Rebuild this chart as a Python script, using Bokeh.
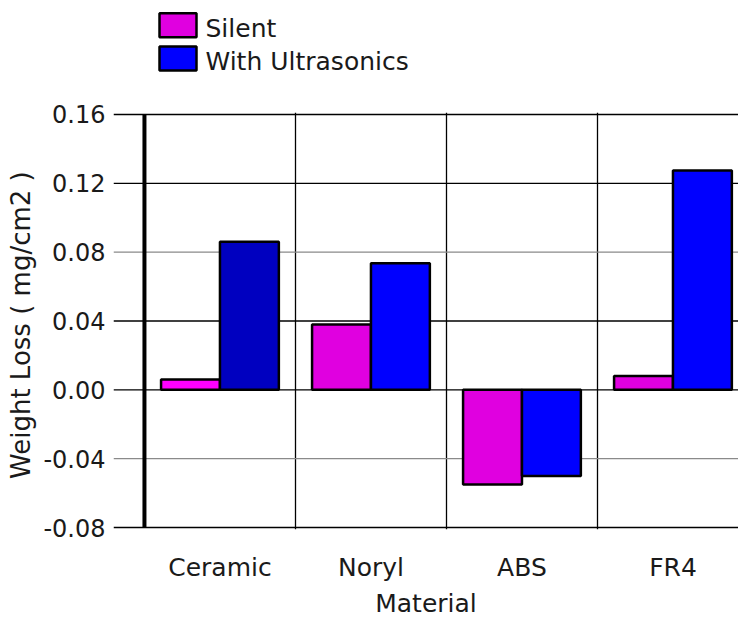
import numpy as np
from bokeh.plotting import figure
from bokeh.layouts import column
from bokeh.models import (ColumnDataSource, FixedTicker, Span, NumeralTickFormatter,
                          Range1d)
from bokeh.core.properties import value
from bokeh.embed import file_html
from bokeh.resources import INLINE

categories = ["Ceramic", "Noryl", "ABS", "FR4"]
series_names = ["Silent", "With Ultrasonics"]
silent = [0.006, 0.038, -0.055, 0.008]
ultrasonic = [0.086, 0.0735, -0.050, 0.1275]
silent_colors = ["#FF00FF", "#E000E0", "#E000E0", "#E000E0"]
ultra_colors = ["#0000C0", "#0000FF", "#0000FF", "#0000FF"]
y_ticks = [-0.08, -0.04, 0.0, 0.04, 0.08, 0.12, 0.16]
grid_colors = ["black", "#8a8a8a", "black", "black", "#8a8a8a", "black", "black"]

FONT = "DejaVu Sans"
TXT = "#1a1a1a"
W = 738
H = 620
LEFT = 113
TOP_H = 80
MAIN_H = H - TOP_H
FRAME_W = W - LEFT

# ---------------- legend strip (separate figure above the chart) -------------
leg = figure(width=W, height=TOP_H, output_backend="svg", toolbar_location=None,
             x_range=Range1d(0, FRAME_W), y_range=Range1d(TOP_H, 0),
             x_axis_location=None, y_axis_location=None,
             min_border_left=LEFT, min_border_right=0, min_border_top=0,
             min_border_bottom=0)
leg.outline_line_color = None
leg.grid.grid_line_color = None
leg_src = ColumnDataSource(dict(
    bx=[64.5, 64.5], by=[24.7, 58], tx=[92, 92], ty=[27.5, 61],
    color=[silent_colors[1], ultra_colors[1]], label=series_names))
leg.rect(x="bx", y="by", width=37, height=24, fill_color="color",
         line_color="black", line_width=2.5, source=leg_src)
leg.text(x="tx", y="ty", text="label", text_font=value(FONT),
         text_font_size="25px", text_color=TXT, text_baseline="alphabetic",
         text_align="left", source=leg_src)

# ---------------- main chart --------------------------------------------------
idx = np.arange(len(categories))
bar_w = 0.39
src_s = ColumnDataSource(dict(x=idx + 0.5 - bar_w / 2, top=silent, color=silent_colors))
src_u = ColumnDataSource(dict(x=idx + 0.5 + bar_w / 2, top=ultrasonic, color=ultra_colors))

p = figure(width=W, height=MAIN_H, output_backend="svg", toolbar_location=None,
           x_range=(-0.205, 3.934), y_range=(-0.08116, 0.16116),
           min_border_left=LEFT, min_border_right=0, min_border_top=112 - TOP_H,
           min_border_bottom=90)
p.outline_line_color = None

# horizontal grid lines
p.ygrid.grid_line_color = None
for v, c in zip(y_ticks, grid_colors):
    p.add_layout(Span(location=v, dimension="width", line_color=c,
                      line_width=1.3, level="underlay"))

# vertical separators between categories
p.xgrid.ticker = FixedTicker(ticks=list(idx[1:].astype(float)))
p.xgrid.grid_line_color = "black"
p.xgrid.grid_line_width = 1.3

# thick left axis line
p.segment(x0=[0], y0=[y_ticks[0]], x1=[0], y1=[y_ticks[-1]],
          line_color="black", line_width=4)

p.vbar(x="x", top="top", bottom=0, width=bar_w, fill_color="color",
       line_color="black", line_width=2.5, source=src_s)
p.vbar(x="x", top="top", bottom=0, width=bar_w, fill_color="color",
       line_color="black", line_width=2.5, source=src_u)

# y axis
yax = p.yaxis[0]
yax.ticker = FixedTicker(ticks=y_ticks)
yax.formatter = NumeralTickFormatter(format="0.00")
yax.axis_line_color = None
yax.major_tick_line_color = None
yax.minor_tick_line_color = None
yax.major_tick_out = 0
yax.major_tick_in = 0
yax.major_label_standoff = 8
yax.major_label_text_font = FONT
yax.major_label_text_font_size = "24px"
yax.major_label_text_color = TXT
yax.axis_label = "Weight Loss  ( mg/cm2 )"
yax.axis_label_text_font = FONT
yax.axis_label_text_font_size = "26px"
yax.axis_label_text_font_style = "normal"
yax.axis_label_text_color = TXT
yax.axis_label_standoff = 4

# x axis
xax = p.xaxis[0]
xax.ticker = FixedTicker(ticks=list(idx + 0.5))
xax.major_label_overrides = {float(i + 0.5): c for i, c in zip(idx, categories)}
xax.axis_line_color = None
xax.major_tick_line_color = None
xax.minor_tick_line_color = None
xax.major_tick_out = 0
xax.major_tick_in = 0
xax.major_label_standoff = 23
xax.major_label_text_font = FONT
xax.major_label_text_font_size = "25px"
xax.major_label_text_color = TXT
xax.axis_label = "Material"
xax.axis_label_text_font = FONT
xax.axis_label_text_font_size = "25px"
xax.axis_label_text_font_style = "normal"
xax.axis_label_text_color = TXT
xax.axis_label_standoff = 4

layout = column(leg, p, spacing=0)
open("out.html", "w").write(file_html(layout, INLINE))
